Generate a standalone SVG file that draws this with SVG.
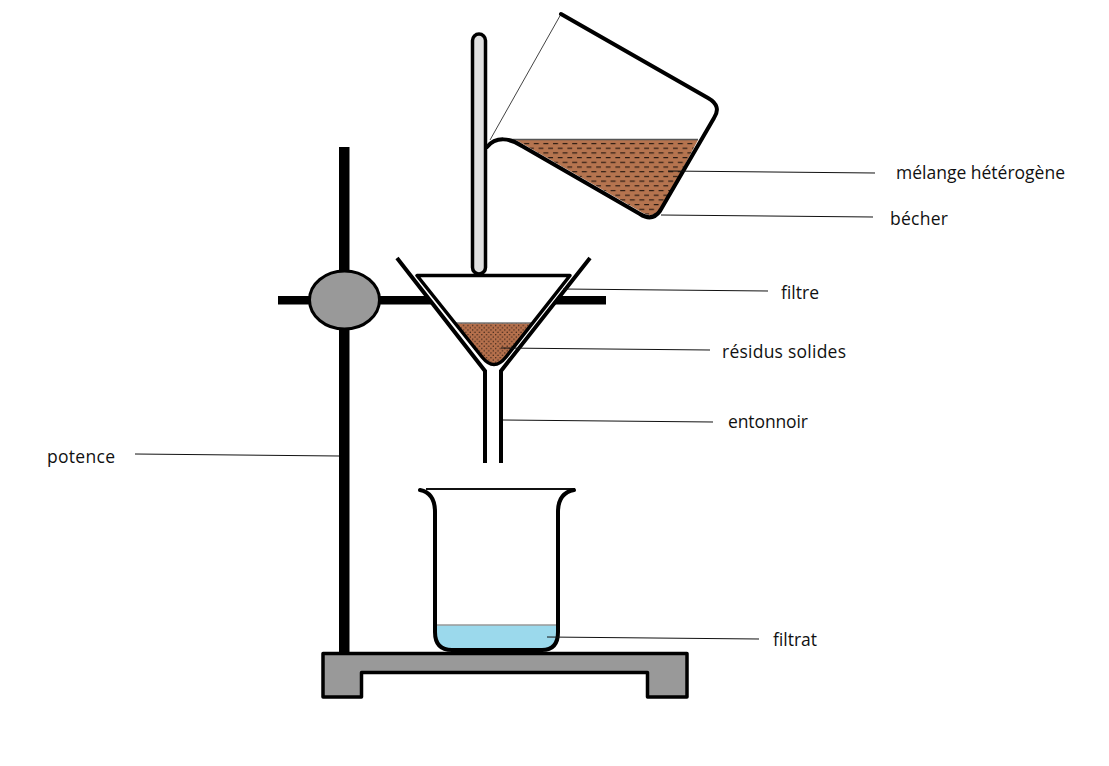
<svg xmlns="http://www.w3.org/2000/svg" width="1109" height="766" viewBox="0 0 1109 766">
<style>
.o{fill:none;stroke:#000;stroke-width:4;stroke-linejoin:round;stroke-linecap:round}
.f{fill:none;stroke:#000;stroke-width:4;stroke-linejoin:miter;stroke-linecap:butt}
.l{fill:none;stroke:#111;stroke-width:1}
.t{font-family:"Open Sans","Noto Sans","Liberation Sans",sans-serif;font-size:17.500px;fill:#111}
</style>
<defs>
<pattern id="dash" width="9.600" height="9.400" patternUnits="userSpaceOnUse" patternTransform="translate(600 142)">
<rect width="9.600" height="9.400" fill="#b5744f"/>
<path d="M1 1.500h5M5.800 6.200h3.800M0 6.200h1" stroke="#2a1a12" stroke-width="1.200"/>
</pattern>
<pattern id="dots" width="4.600" height="4.600" patternUnits="userSpaceOnUse">
<rect width="4.600" height="4.600" fill="#b5704c"/>
<circle cx="1.150" cy="1.150" r="0.700" fill="#2a1a12"/><circle cx="3.450" cy="3.450" r="0.700" fill="#2a1a12"/>
</pattern>
</defs>
<rect width="1109" height="766" fill="#fff"/>
<g id="potence">
<rect x="339" y="147" width="10.500" height="506" fill="#000"/>
<rect x="278" y="296" width="328" height="8.500" fill="#000"/>
<ellipse cx="344.500" cy="300" rx="35" ry="29" fill="#999" stroke="#000" stroke-width="3"/>
<path d="M323 653.500H687V697H647.500V672.500H361.500V697H323Z" fill="#999" stroke="#000" stroke-width="3.500" stroke-linejoin="round"/>
</g>
<g id="entonnoir">
<path d="M397 258L485 371H501L590 258Z" fill="#fff"/>
<path d="M397 258L485 371V463" class="f"/>
<path d="M590 258L501 371V463" class="f"/>
</g>
<g id="filtre">
<path d="M455 323H533L506 357Q494 372 482 357Z" fill="url(#dots)"/>
<path d="M455 323H533" stroke="#777" stroke-width="1.500"/>
<path d="M417 275.500H570L506 357Q494 372 482 357Z" class="o" style="stroke-width:3.500"/>
</g>
<g id="agitateur">
<rect x="472.500" y="34" width="13" height="240" rx="6.500" fill="#e0e0e0" stroke="#000" stroke-width="3.500"/>
</g>
<g id="becher-verse">
<path d="M516 140H698L664 204Q656 220 643 213Z" fill="url(#dash)"/>
<path d="M497 139.500H698" stroke="#555" stroke-width="1.500"/>
<path d="M561 14L490 140" fill="none" stroke="#444" stroke-width="1"/>
<path d="M561 14L708 98Q722 106 714 118L660 211Q652 222 640 214L522 146C510 138 496 136 487 147" class="o"/>
</g>
<g id="becher">
<path d="M436 625H558V634Q558 650 542 650H451Q436 650 436 634Z" fill="#9bd9ec"/>
<path d="M436 625H558" stroke="#999" stroke-width="1.500"/>
<path d="M426 489H575" fill="none" stroke="#111" stroke-width="1.800"/>
<path d="M420 490Q435 493 435 512V632Q435 650 452 650H542Q558 650 558 632V512Q558 493 574 490" class="o"/>
</g>
<g id="connecteurs">
<path class="l" d="M135 454L339 456"/>
<path class="l" d="M668 171L875 173"/>
<path class="l" d="M661 215L873 217"/>
<path class="l" d="M563 289L768 291"/>
<path class="l" d="M501 348L710 350"/>
<path class="l" d="M503 420L713 422"/>
<path class="l" d="M547 637L759 639"/>
</g>
<g id="labels">
<text class="t" x="47" y="463" textLength="68">potence</text>
<text class="t" x="896" y="179" textLength="169">mélange hétérogène</text>
<text class="t" x="890" y="225" textLength="58">bécher</text>
<text class="t" x="781" y="299" textLength="38">filtre</text>
<text class="t" x="722" y="358" textLength="124">résidus solides</text>
<text class="t" x="728" y="428" textLength="80">entonnoir</text>
<text class="t" x="773" y="646" textLength="44">filtrat</text>
</g>
</svg>
